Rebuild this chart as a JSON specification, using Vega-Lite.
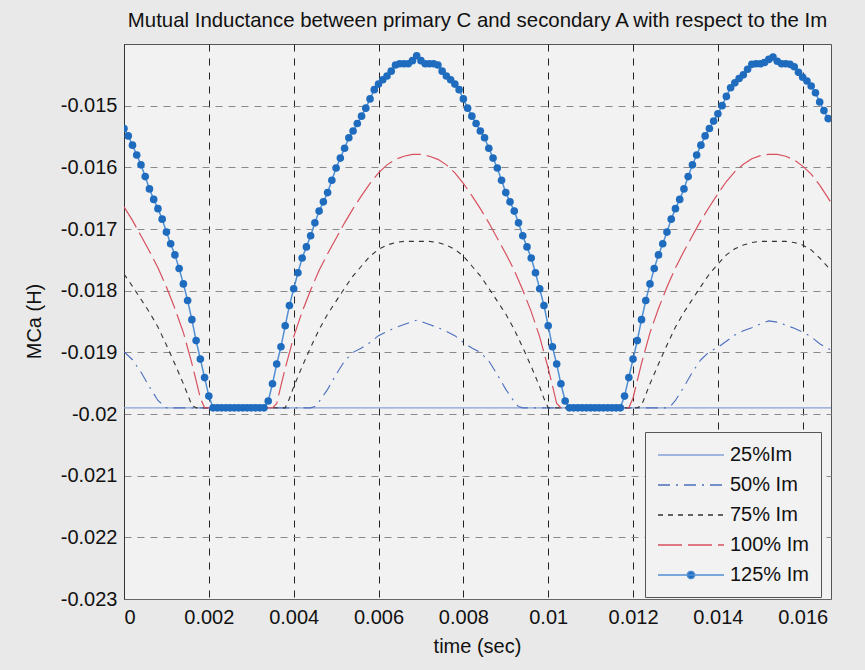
{
"$schema": "https://vega.github.io/schema/vega-lite/v6.json",
"width": 707, "height": 555,
"autosize": "none",
"padding": {"left": 124, "top": 44, "right": 34, "bottom": 71},
"background": "#e9e9e9",
"config": {"view": {"fill": "#f2f2f3", "stroke": "#555", "strokeWidth": 1}, "font": "Liberation Sans"},
"title": {"text": "Mutual Inductance between primary C and secondary A with respect to the Im", "fontSize": 20.4, "fontWeight": "normal", "color": "#111", "anchor": "middle", "baseline": "alphabetic", "offset": 16, "dy": 19, "font": "Liberation Sans"},
"datasets": {
"d25": [{"t":0,"v":-0.0199},{"t":0.008,"v":-0.0199},{"t":0.0166667,"v":-0.0199}],
"d50": [{"t":0,"v":-0.01899},{"t":0.0002,"v":-0.01912},{"t":0.0004,"v":-0.01932},{"t":0.0006,"v":-0.01956},{"t":0.0008,"v":-0.01978},{"t":0.001,"v":-0.0199},{"t":0.0044,"v":-0.0199},{"t":0.0045,"v":-0.01988},{"t":0.0046,"v":-0.0198},{"t":0.0048,"v":-0.0196},{"t":0.005,"v":-0.01936},{"t":0.0052,"v":-0.01914},{"t":0.0054,"v":-0.019},{"t":0.0056,"v":-0.01893},{"t":0.0058,"v":-0.01884},{"t":0.006,"v":-0.01873},{"t":0.0062,"v":-0.01866},{"t":0.0064,"v":-0.0186},{"t":0.0066,"v":-0.01855},{"t":0.0068,"v":-0.0185},{"t":0.0069,"v":-0.01848},{"t":0.007,"v":-0.0185},{"t":0.0072,"v":-0.01855},{"t":0.0074,"v":-0.0186},{"t":0.0076,"v":-0.01866},{"t":0.0078,"v":-0.01873},{"t":0.008,"v":-0.01884},{"t":0.0082,"v":-0.01893},{"t":0.0084,"v":-0.019},{"t":0.0086,"v":-0.01914},{"t":0.0088,"v":-0.01936},{"t":0.009,"v":-0.0196},{"t":0.0092,"v":-0.0198},{"t":0.0093,"v":-0.01988},{"t":0.0094,"v":-0.0199},{"t":0.0128,"v":-0.0199},{"t":0.0129,"v":-0.01986},{"t":0.013,"v":-0.01978},{"t":0.0132,"v":-0.01956},{"t":0.0134,"v":-0.01932},{"t":0.0136,"v":-0.01912},{"t":0.0138,"v":-0.01899},{"t":0.014,"v":-0.01892},{"t":0.0142,"v":-0.01882},{"t":0.0144,"v":-0.01872},{"t":0.0146,"v":-0.01865},{"t":0.0148,"v":-0.0186},{"t":0.015,"v":-0.01854},{"t":0.0152,"v":-0.01849},{"t":0.0154,"v":-0.01851},{"t":0.0156,"v":-0.01856},{"t":0.0158,"v":-0.01861},{"t":0.016,"v":-0.01867},{"t":0.0162,"v":-0.01875},{"t":0.0164,"v":-0.01886},{"t":0.0166,"v":-0.01894},{"t":0.0166667,"v":-0.01896}],
"d75": [{"t":0,"v":-0.01773},{"t":0.0002,"v":-0.01793},{"t":0.0004,"v":-0.01814},{"t":0.0006,"v":-0.01835},{"t":0.0008,"v":-0.01859},{"t":0.001,"v":-0.01888},{"t":0.0012,"v":-0.01919},{"t":0.0014,"v":-0.01951},{"t":0.0016,"v":-0.01986},{"t":0.0017,"v":-0.0199},{"t":0.0038,"v":-0.0199},{"t":0.0039,"v":-0.01975},{"t":0.004,"v":-0.01956},{"t":0.0042,"v":-0.01923},{"t":0.0044,"v":-0.01892},{"t":0.0046,"v":-0.01863},{"t":0.0048,"v":-0.01838},{"t":0.005,"v":-0.01817},{"t":0.0052,"v":-0.01796},{"t":0.0054,"v":-0.01776},{"t":0.0056,"v":-0.0176},{"t":0.0058,"v":-0.01744},{"t":0.006,"v":-0.01733},{"t":0.0062,"v":-0.01726},{"t":0.0064,"v":-0.01722},{"t":0.0066,"v":-0.0172},{"t":0.0072,"v":-0.0172},{"t":0.0074,"v":-0.01722},{"t":0.0076,"v":-0.01726},{"t":0.0078,"v":-0.01733},{"t":0.008,"v":-0.01744},{"t":0.0082,"v":-0.0176},{"t":0.0084,"v":-0.01776},{"t":0.0086,"v":-0.01796},{"t":0.0088,"v":-0.01817},{"t":0.009,"v":-0.01838},{"t":0.0092,"v":-0.01863},{"t":0.0094,"v":-0.01892},{"t":0.0096,"v":-0.01923},{"t":0.0098,"v":-0.01956},{"t":0.0099,"v":-0.01975},{"t":0.01,"v":-0.0199},{"t":0.0121,"v":-0.0199},{"t":0.0122,"v":-0.01986},{"t":0.0124,"v":-0.01951},{"t":0.0126,"v":-0.01919},{"t":0.0128,"v":-0.01888},{"t":0.013,"v":-0.01859},{"t":0.0132,"v":-0.01835},{"t":0.0134,"v":-0.01814},{"t":0.0136,"v":-0.01793},{"t":0.0138,"v":-0.01773},{"t":0.014,"v":-0.01757},{"t":0.0142,"v":-0.01742},{"t":0.0144,"v":-0.01732},{"t":0.0146,"v":-0.01726},{"t":0.0148,"v":-0.01722},{"t":0.015,"v":-0.0172},{"t":0.0156,"v":-0.0172},{"t":0.0158,"v":-0.01722},{"t":0.016,"v":-0.01726},{"t":0.0162,"v":-0.01734},{"t":0.0164,"v":-0.01747},{"t":0.0166,"v":-0.01762},{"t":0.0166667,"v":-0.01767}],
"d100": [{"t":0,"v":-0.01664},{"t":0.0002,"v":-0.01686},{"t":0.0004,"v":-0.01711},{"t":0.0006,"v":-0.01736},{"t":0.0008,"v":-0.01763},{"t":0.001,"v":-0.01794},{"t":0.0012,"v":-0.01829},{"t":0.0014,"v":-0.01868},{"t":0.0016,"v":-0.01918},{"t":0.0017,"v":-0.01946},{"t":0.0018,"v":-0.01974},{"t":0.0019,"v":-0.0199},{"t":0.0035,"v":-0.0199},{"t":0.0036,"v":-0.01983},{"t":0.0037,"v":-0.01954},{"t":0.0038,"v":-0.01926},{"t":0.004,"v":-0.01875},{"t":0.0042,"v":-0.01834},{"t":0.0044,"v":-0.01799},{"t":0.0046,"v":-0.01767},{"t":0.0048,"v":-0.0174},{"t":0.005,"v":-0.01715},{"t":0.0052,"v":-0.0169},{"t":0.0054,"v":-0.01667},{"t":0.0056,"v":-0.01646},{"t":0.0058,"v":-0.01626},{"t":0.006,"v":-0.01609},{"t":0.0062,"v":-0.01596},{"t":0.0064,"v":-0.01587},{"t":0.0066,"v":-0.01582},{"t":0.0068,"v":-0.01579},{"t":0.007,"v":-0.01579},{"t":0.0072,"v":-0.01582},{"t":0.0074,"v":-0.01587},{"t":0.0076,"v":-0.01596},{"t":0.0078,"v":-0.01609},{"t":0.008,"v":-0.01626},{"t":0.0082,"v":-0.01646},{"t":0.0084,"v":-0.01667},{"t":0.0086,"v":-0.0169},{"t":0.0088,"v":-0.01715},{"t":0.009,"v":-0.0174},{"t":0.0092,"v":-0.01767},{"t":0.0094,"v":-0.01799},{"t":0.0096,"v":-0.01834},{"t":0.0098,"v":-0.01875},{"t":0.01,"v":-0.01926},{"t":0.0101,"v":-0.01954},{"t":0.0102,"v":-0.01983},{"t":0.0103,"v":-0.0199},{"t":0.0119,"v":-0.0199},{"t":0.012,"v":-0.01974},{"t":0.0121,"v":-0.01946},{"t":0.0122,"v":-0.01918},{"t":0.0124,"v":-0.01868},{"t":0.0126,"v":-0.01829},{"t":0.0128,"v":-0.01794},{"t":0.013,"v":-0.01763},{"t":0.0132,"v":-0.01736},{"t":0.0134,"v":-0.01711},{"t":0.0136,"v":-0.01686},{"t":0.0138,"v":-0.01664},{"t":0.014,"v":-0.01643},{"t":0.0142,"v":-0.01623},{"t":0.0144,"v":-0.01607},{"t":0.0146,"v":-0.01595},{"t":0.0148,"v":-0.01586},{"t":0.015,"v":-0.01581},{"t":0.0152,"v":-0.01579},{"t":0.0154,"v":-0.01579},{"t":0.0156,"v":-0.01582},{"t":0.0158,"v":-0.01588},{"t":0.016,"v":-0.01598},{"t":0.0162,"v":-0.01611},{"t":0.0164,"v":-0.01629},{"t":0.0166,"v":-0.0165},{"t":0.0166667,"v":-0.01657}],
"d125": [{"t":0,"v":-0.01537},{"t":0.0001,"v":-0.01549},{"t":0.0002,"v":-0.01564},{"t":0.0003,"v":-0.0158},{"t":0.0004,"v":-0.01596},{"t":0.0005,"v":-0.01615},{"t":0.0006,"v":-0.01635},{"t":0.0007,"v":-0.01652},{"t":0.0008,"v":-0.01667},{"t":0.0009,"v":-0.01684},{"t":0.001,"v":-0.01705},{"t":0.0011,"v":-0.01724},{"t":0.0012,"v":-0.01742},{"t":0.0013,"v":-0.01764},{"t":0.0014,"v":-0.01789},{"t":0.0015,"v":-0.01816},{"t":0.0016,"v":-0.01847},{"t":0.0017,"v":-0.01881},{"t":0.0018,"v":-0.01911},{"t":0.0019,"v":-0.01941},{"t":0.002,"v":-0.01971},{"t":0.0021,"v":-0.0199},{"t":0.0022,"v":-0.0199},{"t":0.0023,"v":-0.0199},{"t":0.0024,"v":-0.0199},{"t":0.0025,"v":-0.0199},{"t":0.0026,"v":-0.0199},{"t":0.0027,"v":-0.0199},{"t":0.0028,"v":-0.0199},{"t":0.0029,"v":-0.0199},{"t":0.003,"v":-0.0199},{"t":0.0031,"v":-0.0199},{"t":0.0032,"v":-0.0199},{"t":0.0033,"v":-0.0199},{"t":0.0034,"v":-0.01979},{"t":0.0035,"v":-0.01951},{"t":0.0036,"v":-0.01919},{"t":0.0037,"v":-0.01891},{"t":0.0038,"v":-0.01857},{"t":0.0039,"v":-0.01824},{"t":0.004,"v":-0.01797},{"t":0.0041,"v":-0.01771},{"t":0.0042,"v":-0.01747},{"t":0.0043,"v":-0.01729},{"t":0.0044,"v":-0.01711},{"t":0.0045,"v":-0.0169},{"t":0.0046,"v":-0.01671},{"t":0.0047,"v":-0.01656},{"t":0.0048,"v":-0.01641},{"t":0.0049,"v":-0.01621},{"t":0.005,"v":-0.01601},{"t":0.0051,"v":-0.01585},{"t":0.0052,"v":-0.01569},{"t":0.0053,"v":-0.01552},{"t":0.0054,"v":-0.01541},{"t":0.0055,"v":-0.01529},{"t":0.0056,"v":-0.01517},{"t":0.0057,"v":-0.01504},{"t":0.0058,"v":-0.01489},{"t":0.0059,"v":-0.01474},{"t":0.006,"v":-0.01465},{"t":0.0061,"v":-0.01458},{"t":0.0062,"v":-0.01452},{"t":0.0063,"v":-0.01444},{"t":0.0064,"v":-0.01434},{"t":0.0065,"v":-0.01432},{"t":0.0066,"v":-0.01432},{"t":0.0067,"v":-0.01432},{"t":0.0068,"v":-0.01427},{"t":0.0069,"v":-0.01419},{"t":0.007,"v":-0.01427},{"t":0.0071,"v":-0.01432},{"t":0.0072,"v":-0.01432},{"t":0.0073,"v":-0.01432},{"t":0.0074,"v":-0.01434},{"t":0.0075,"v":-0.01444},{"t":0.0076,"v":-0.01452},{"t":0.0077,"v":-0.01458},{"t":0.0078,"v":-0.01465},{"t":0.0079,"v":-0.01474},{"t":0.008,"v":-0.01489},{"t":0.0081,"v":-0.01504},{"t":0.0082,"v":-0.01517},{"t":0.0083,"v":-0.01529},{"t":0.0084,"v":-0.01541},{"t":0.0085,"v":-0.01552},{"t":0.0086,"v":-0.01569},{"t":0.0087,"v":-0.01585},{"t":0.0088,"v":-0.01601},{"t":0.0089,"v":-0.01621},{"t":0.009,"v":-0.01641},{"t":0.0091,"v":-0.01656},{"t":0.0092,"v":-0.01671},{"t":0.0093,"v":-0.0169},{"t":0.0094,"v":-0.01711},{"t":0.0095,"v":-0.01729},{"t":0.0096,"v":-0.01747},{"t":0.0097,"v":-0.01771},{"t":0.0098,"v":-0.01797},{"t":0.0099,"v":-0.01824},{"t":0.01,"v":-0.01857},{"t":0.0101,"v":-0.01891},{"t":0.0102,"v":-0.01919},{"t":0.0103,"v":-0.01951},{"t":0.0104,"v":-0.01979},{"t":0.0105,"v":-0.0199},{"t":0.0106,"v":-0.0199},{"t":0.0107,"v":-0.0199},{"t":0.0108,"v":-0.0199},{"t":0.0109,"v":-0.0199},{"t":0.011,"v":-0.0199},{"t":0.0111,"v":-0.0199},{"t":0.0112,"v":-0.0199},{"t":0.0113,"v":-0.0199},{"t":0.0114,"v":-0.0199},{"t":0.0115,"v":-0.0199},{"t":0.0116,"v":-0.0199},{"t":0.0117,"v":-0.0199},{"t":0.0118,"v":-0.01971},{"t":0.0119,"v":-0.01941},{"t":0.012,"v":-0.01911},{"t":0.0121,"v":-0.01881},{"t":0.0122,"v":-0.01847},{"t":0.0123,"v":-0.01816},{"t":0.0124,"v":-0.01789},{"t":0.0125,"v":-0.01764},{"t":0.0126,"v":-0.01742},{"t":0.0127,"v":-0.01724},{"t":0.0128,"v":-0.01705},{"t":0.0129,"v":-0.01684},{"t":0.013,"v":-0.01667},{"t":0.0131,"v":-0.01652},{"t":0.0132,"v":-0.01635},{"t":0.0133,"v":-0.01615},{"t":0.0134,"v":-0.01596},{"t":0.0135,"v":-0.0158},{"t":0.0136,"v":-0.01564},{"t":0.0137,"v":-0.01549},{"t":0.0138,"v":-0.01537},{"t":0.0139,"v":-0.01525},{"t":0.014,"v":-0.01513},{"t":0.0141,"v":-0.015},{"t":0.0142,"v":-0.01485},{"t":0.0143,"v":-0.01471},{"t":0.0144,"v":-0.01463},{"t":0.0145,"v":-0.01456},{"t":0.0146,"v":-0.0145},{"t":0.0147,"v":-0.01441},{"t":0.0148,"v":-0.01433},{"t":0.0149,"v":-0.01432},{"t":0.015,"v":-0.01432},{"t":0.0151,"v":-0.0143},{"t":0.0152,"v":-0.01425},{"t":0.0153,"v":-0.01421},{"t":0.0154,"v":-0.01428},{"t":0.0155,"v":-0.01432},{"t":0.0156,"v":-0.01432},{"t":0.0157,"v":-0.01433},{"t":0.0158,"v":-0.01437},{"t":0.0159,"v":-0.01446},{"t":0.016,"v":-0.01454},{"t":0.0161,"v":-0.0146},{"t":0.0162,"v":-0.01468},{"t":0.0163,"v":-0.01479},{"t":0.0164,"v":-0.01494},{"t":0.0165,"v":-0.01508},{"t":0.0166,"v":-0.01521}]
},
"encoding": {
  "x": {"field": "t", "type": "quantitative", "title": "time (sec)",
        "scale": {"domain": [0, 0.0166667], "nice": false, "zero": false},
        "axis": {"values": [0, 0.002, 0.004, 0.006, 0.008, 0.01, 0.012, 0.014, 0.016], "labelExpr": "'' + datum.value",
                 "grid": true, "gridDash": [7, 7], "gridColor": "#222", "gridWidth": 1, "ticks": false,
                 "domainColor": "#666", "labelFontSize": 20, "labelColor": "#111", "labelFont": "Liberation Sans", "labelPadding": 8,
                 "titleFontSize": 20, "titleFontWeight": "normal", "titleColor": "#111", "titleFont": "Liberation Sans",
                 "titleX": 353, "titleY": 53, "titleBaseline": "alphabetic", "titleAlign": "center"}},
  "y": {"field": "v", "type": "quantitative", "title": "MCa (H)",
        "scale": {"domain": [-0.023, -0.014], "nice": false, "zero": false},
        "axis": {"values": [-0.023, -0.022, -0.021, -0.02, -0.019, -0.018, -0.017, -0.016, -0.015], "labelExpr": "'' + datum.value",
                 "grid": true, "gridDash": [7, 6], "gridColor": "#8a8a8a", "gridWidth": 1, "ticks": false,
                 "domainColor": "#333", "labelFontSize": 20, "labelColor": "#111", "labelFont": "Liberation Sans", "labelPadding": 7,
                 "titleFontSize": 20, "titleFontWeight": "normal", "titleColor": "#111", "titleFont": "Liberation Sans",
                 "titleX": -90, "titleY": 277, "titleBaseline": "middle", "titleAlign": "center", "titleAngle": 270}}
},
"layer": [
  {"data": {"name": "d25"}, "mark": {"type": "line", "strokeWidth": 1.1, "clip": true},
   "encoding": {"color": {"datum": "25%Im", "type": "nominal",
     "scale": {"domain": ["25%Im", "50% Im", "75% Im", "100% Im", "125% Im"], "range": ["#86a0d6", "#4c6fbe", "#333333", "#d8505e", "#4f8fd4"]},
     "legend": {"orient": "none", "legendX": 521, "legendY": 388, "title": null, "direction": "vertical",
        "fillColor": "#f2f2f3", "strokeColor": "#555", "padding": 12, "labelFontSize": 20, "labelFont": "Liberation Sans", "labelColor": "#111",
        "symbolSize": 400, "symbolType": "stroke", "symbolStrokeWidth": 1.3, "rowPadding": 9, "symbolOffset": 23, "labelOffset": 28,
        "encode": {"symbols": {"update": {
          "shape": {"signal": "datum.value === '125% Im' ? 'M-3.3,0H3.3M-0.37,0A0.37,0.37,0,1,0,0.37,0A0.37,0.37,0,1,0,-0.37,0Z' : 'M-3.3,0H3.3'"},
          "fill": {"signal": "datum.value === '125% Im' ? '#1f6cbf' : 'transparent'"},
          "strokeDash": {"signal": "datum.value === '50% Im' ? [12,6,2,6] : datum.value === '75% Im' ? [5,5] : datum.value === '100% Im' ? [24,6] : [1,0]"}}}}}}}},
  {"data": {"name": "d50"}, "mark": {"type": "line", "strokeWidth": 1.1, "strokeDash": [12, 6, 2, 6], "clip": true},
   "encoding": {"color": {"datum": "50% Im", "type": "nominal"}}},
  {"data": {"name": "d75"}, "mark": {"type": "line", "strokeWidth": 1.1, "strokeDash": [5, 5], "clip": true},
   "encoding": {"color": {"datum": "75% Im", "type": "nominal"}}},
  {"data": {"name": "d100"}, "mark": {"type": "line", "strokeWidth": 1.2, "strokeDash": [24, 6], "clip": true},
   "encoding": {"color": {"datum": "100% Im", "type": "nominal"}}},
  {"data": {"name": "d125"}, "mark": {"type": "line", "strokeWidth": 1.5, "clip": true},
   "encoding": {"color": {"datum": "125% Im", "type": "nominal"}}},
  {"data": {"name": "d125"}, "mark": {"type": "point", "filled": true, "shape": "circle", "size": 58, "color": "#1f6cbf", "opacity": 1, "clip": true},
   "encoding": {}}
]
}
